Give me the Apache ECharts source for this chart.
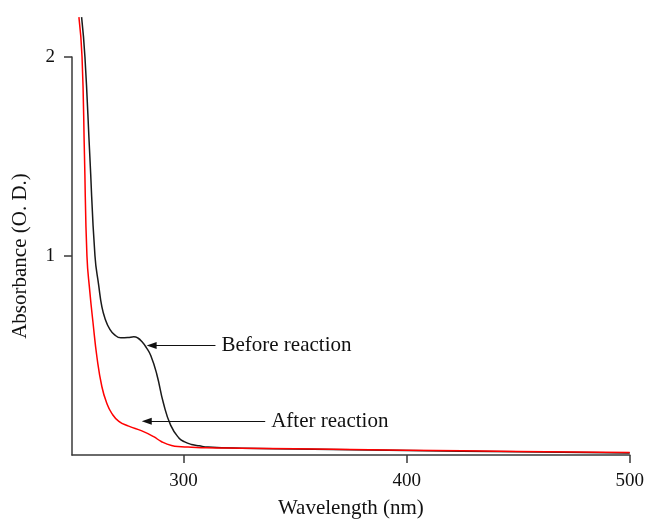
<!DOCTYPE html>
<html>
<head>
<meta charset="utf-8">
<script src="https://cdn.jsdelivr.net/npm/echarts@6/dist/echarts.min.js"></script>
<style>
  html, body { margin: 0; padding: 0; background: #fff; }
  #absorbance-graph { width: 647px; height: 524px; }
</style>
</head>
<body>
<div id="absorbance-graph"></div>
<script>
// wavelength (nm) / absorbance pairs
const BEFORE_WAVELENGTH = [254.3, 255.8, 258, 260.3, 262, 263.4, 265, 266.8, 269, 271.9, 275, 277.7, 279.5, 281.3, 283.3, 285.3, 288, 291, 294.2, 297.8, 300.5, 303.6, 307, 311, 326, 350, 400, 450, 500];
const BEFORE_ABSORBANCE = [2.2, 2.0, 1.5, 1.0, 0.85, 0.744, 0.68, 0.635, 0.605, 0.589, 0.59, 0.594, 0.588, 0.57, 0.54, 0.50, 0.406, 0.26, 0.15, 0.087, 0.066, 0.053, 0.046, 0.04, 0.034, 0.03, 0.022, 0.016, 0.01];
const AFTER_WAVELENGTH = [253.1, 254.5, 255.6, 256.7, 258, 259.4, 261.2, 263.4, 265.6, 267.9, 271, 275.4, 281.3, 286.6, 290, 294.6, 299, 303.6, 310, 326, 350, 400, 450, 500];
const AFTER_ABSORBANCE = [2.2, 2.0, 1.5, 1.0, 0.82, 0.667, 0.49, 0.343, 0.26, 0.208, 0.169, 0.145, 0.121, 0.092, 0.068, 0.048, 0.042, 0.039, 0.036, 0.034, 0.031, 0.024, 0.018, 0.012];
const X_TICKS = [300, 400, 500];
const Y_TICKS = [1, 2];

const FONT = '"Liberation Serif", "DejaVu Serif", serif';
const AXIS_COLOR = '#3a3a3a';

let absorbance_graph = echarts.init(document.getElementById('absorbance-graph'));

function pairs(xs, ys) {
    return xs.map(function (x, i) { return [x, ys[i]]; });
}

function arrow_note(text, tail, tip) {
    return {
        silent: true,
        symbol: ['none', 'triangle'],
        symbolSize: [7, 10],
        lineStyle: { color: '#111', width: 1.2, type: 'solid' },
        label: {
            show: true,
            position: 'start',
            distance: 6,
            formatter: text,
            color: '#111',
            fontFamily: FONT,
            fontSize: 21
        },
        data: [[{ coord: tail }, { coord: tip }]]
    };
}

let echarts_options = {
    animation: false,
    textStyle: { fontFamily: FONT },
    grid: { left: 72, right: 14, top: 57, bottom: 53, containLabel: false },
    xAxis: {
        type: 'value',
        min: 250,
        max: 500,
        name: 'Wavelength (nm)',
        nameLocation: 'middle',
        nameGap: 43,
        nameTextStyle: { fontFamily: FONT, fontSize: 21, color: '#111' },
        splitLine: { show: false },
        axisLine: { lineStyle: { color: AXIS_COLOR, width: 1.5 } },
        axisTick: { customValues: X_TICKS, length: 8, lineStyle: { color: AXIS_COLOR, width: 1.5 } },
        axisLabel: { customValues: X_TICKS, margin: 17, fontFamily: FONT, fontSize: 19, color: '#111' }
    },
    yAxis: {
        type: 'value',
        min: 0,
        max: 2,
        name: 'Absorbance (O. D.)',
        nameLocation: 'middle',
        nameGap: 41,
        nameTextStyle: { fontFamily: FONT, fontSize: 21, color: '#111' },
        splitLine: { show: false },
        axisLine: { show: true, lineStyle: { color: AXIS_COLOR, width: 1.5 } },
        axisTick: { show: true, customValues: Y_TICKS, length: 8, lineStyle: { color: AXIS_COLOR, width: 1.5 } },
        axisLabel: { customValues: Y_TICKS, margin: 17, fontFamily: FONT, fontSize: 19, color: '#111' }
    },
    series: [
        {
            name: 'After reaction',
            type: 'line',
            smooth: 0.5,
            showSymbol: false,
            clip: false,
            z: 3,
            lineStyle: { color: '#ff0000', width: 1.5 },
            data: pairs(AFTER_WAVELENGTH, AFTER_ABSORBANCE),
            markLine: arrow_note('After reaction', [336.6, 0.169], [283.5, 0.169])
        },
        {
            name: 'Before reaction',
            type: 'line',
            smooth: 0.5,
            showSymbol: false,
            clip: false,
            z: 2,
            lineStyle: { color: '#1a1a1a', width: 1.5 },
            data: pairs(BEFORE_WAVELENGTH, BEFORE_ABSORBANCE),
            markLine: arrow_note('Before reaction', [314.3, 0.55], [285.7, 0.55])
        }
    ]
};

absorbance_graph.setOption(echarts_options);

window.addEventListener('resize', function () {
    absorbance_graph?.resize();
});
</script>
</body>
</html>
